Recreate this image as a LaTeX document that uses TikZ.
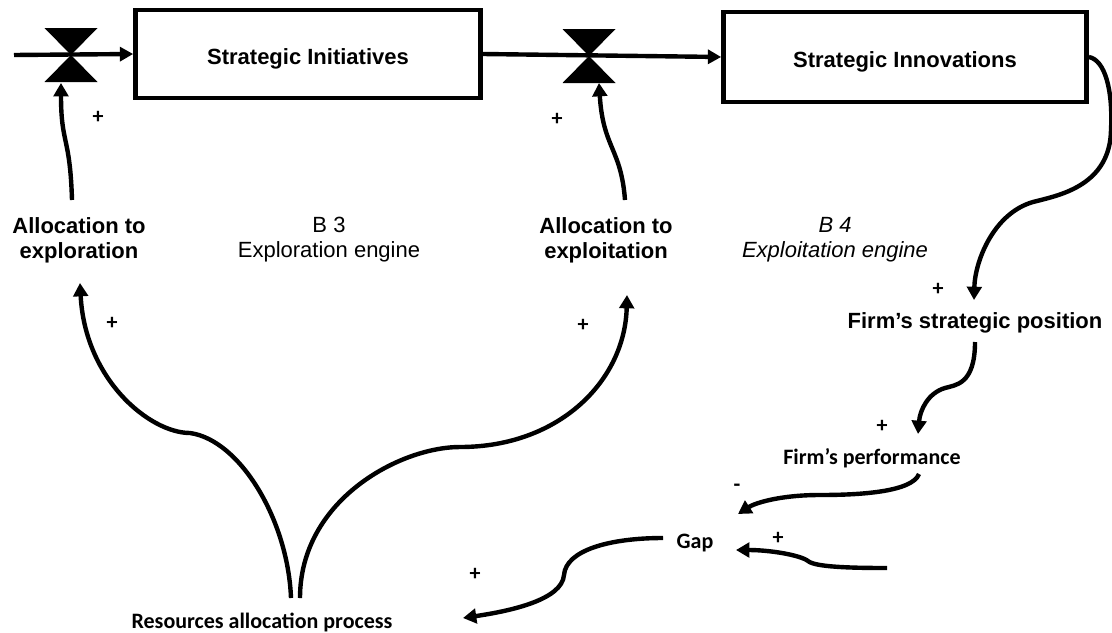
\documentclass[tikz,border=0pt]{standalone}
\usepackage{fontspec}
\setmainfont{Liberation Sans}
\newfontfamily\carlito{Carlito}
\usetikzlibrary{arrows.meta}
\begin{document}
\begin{tikzpicture}[x=0.75pt,y=-0.75pt,
  txt/.style={font=\fontsize{16.5}{18.75}\selectfont, align=center, inner sep=0pt},
  var/.style={txt, font=\fontsize{16.5}{18.75}\selectfont\bfseries},
  loopname/.style={txt},
  cvar/.style={inner sep=0pt, font=\carlito\fontsize{16.5}{18.75}\selectfont\bfseries},
  sign/.style={inner sep=0pt, font=\carlito\fontsize{16.5}{18.75}\selectfont\bfseries},
  stock/.style={draw, line width=3.5pt, inner sep=0pt, text height=16pt, text depth=0pt,
    font=\fontsize{16.5}{18.75}\selectfont\bfseries},
  valve/.style={minimum width=53*0.75pt, minimum height=54*0.75pt, inner sep=0pt, outer sep=0pt},
  flow/.style={line width=3.3pt, -{Triangle[length=10pt,width=10.5pt]}},
  link/.style={line width=3.3pt, -{Triangle[length=10pt,width=11pt]}},
]
\useasboundingbox (0,0) rectangle (1112,632);

% stocks
\node[stock, minimum width=345*0.75pt, minimum height=88*0.75pt] (SI) at (308,54) {Strategic Initiatives};
\node[stock, minimum width=363*0.75pt, minimum height=90*0.75pt] (SN) at (905,57) {Strategic Innovations};

% valves
\node[valve] (V1) at (71,55) {};
\node[valve] (V2) at (589,56) {};
\coordinate (src) at (14,55);

% flows
\draw[flow] (src) -- (SI.west);
\draw[flow] (SI.east) -- (SN.west);
\foreach \v in {V1,V2}
  \fill (\v.north west) -- (\v.north east) -- (\v.south west) -- (\v.south east) -- cycle;

% variables
\node[var] (A1) at (79,240) {Allocation to\\exploration};
\node[var] (A2) at (606,240) {Allocation to\\exploitation};
\node[loopname] (B3) at (329,240) {B 3\\Exploration engine};
\node[loopname, font=\fontsize{16.5}{18.75}\selectfont\itshape] (B4) at (835,240) {B 4\\Exploitation engine};
\node[var] (FSP) at (975,323) {Firm’s strategic position};
\node[cvar] (FP) at (872,458) {Firm’s performance};
\node[cvar] (Gap) at (695,543) {Gap};
\node[cvar] (RAP) at (262,622) {Resources allocation process};
\coordinate (goal) at (887,568);

% causal links
\draw[link] ([shift={(-7,-40)}]A1.center) .. controls (70,135) and (61,145) .. ([shift={(-10,28)}]V1.center);
\draw[link] ([shift={(19,-40)}]A2.center) .. controls (621,148) and (603,148) .. ([shift={(10,27)}]V2.center);
\draw[link] (SN.east) .. controls (1105,60) and (1113,90) .. (1111,130)
  .. controls (1110,185) and (1060,195) .. (1037,201)
  .. controls (995,210) and (975,260) .. ([shift={(-1,-23)}]FSP.center);
\draw[link] ([shift={(0,19)}]FSP.center) .. controls (975,385) and (955,385) .. (945,388)
  .. controls (928,393) and (920,410) .. ([shift={(46,-24)}]FP.center);
\draw[link] ([shift={(47,16)}]FP.center) .. controls (912,492) and (860,495) .. (820,495)
  .. controls (780,495) and (755,503) .. ([shift={(43,-29)}]Gap.center);
\draw[link] (goal) .. controls (850,568) and (815,567) .. (808,561)
  .. controls (800,555) and (770,550) .. ([shift={(41,7)}]Gap.center);
\draw[link] ([shift={(-32,-5)}]Gap.center) .. controls (610,538) and (566,550) .. (564,575)
  .. controls (562,600) and (510,611) .. ([shift={(201,-4)}]RAP.center);
\draw[link] ([shift={(29,-24)}]RAP.center) .. controls (288,520) and (240,440) .. (190,433)
  .. controls (150,433) and (85,380) .. ([shift={(1,43)}]A1.center);
\draw[link] ([shift={(38,-24)}]RAP.center) .. controls (300,500) and (400,447) .. (460,447)
  .. controls (560,447) and (625,380) .. ([shift={(21,55)}]A2.center);

% polarities
\node[sign] (s1) at (98,117) {+};
\node[sign] (s2) at (557,119) {+};
\node[sign] (s3) at (112,323) {+};
\node[sign] (s4) at (583,325) {+};
\node[sign] (s5) at (938,289) {+};
\node[sign] (s6) at (882,426) {+};
\node[sign] (s7) at (737,488) {-};
\node[sign] (s8) at (778,538) {+};
\node[sign] (s9) at (475,574) {+};
\end{tikzpicture}
\end{document}
